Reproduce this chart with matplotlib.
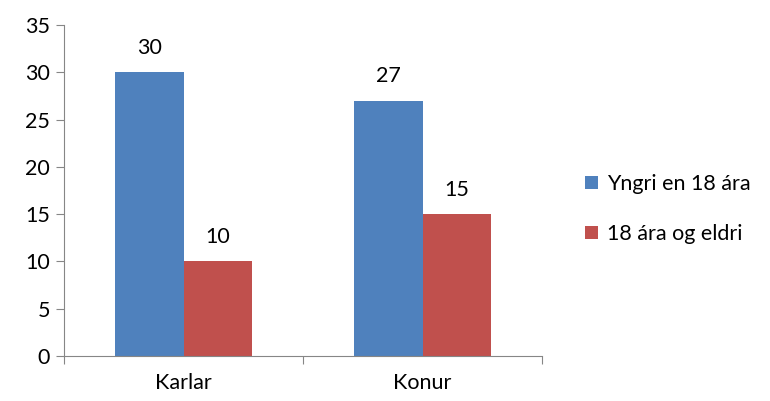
import matplotlib.pyplot as plt
import numpy as np

plt.rcParams['font.family'] = ['Lato', 'DejaVu Sans']

categories = ['Karlar', 'Konur']
series_names = ['Yngri en 18 ára', '18 ára og eldri']
young = [30, 27]
older = [10, 15]
colors = ['#4F81BD', '#C0504D']

fig = plt.figure(figsize=(7.7, 4.01), dpi=100)
ax = fig.add_axes([64 / 770, 1 - 356 / 401, 478 / 770, 331 / 401])

x = np.arange(len(categories))
w = 0.285
b1 = ax.bar(x - w / 2, young, w, color=colors[0], label=series_names[0])
b2 = ax.bar(x + w / 2, older, w, color=colors[1], label=series_names[1])

for bars in (b1, b2):
    for r in bars:
        ax.text(r.get_x() + r.get_width() / 2, r.get_height() + 1.5,
                f'{r.get_height():.0f}', ha='center', va='bottom', fontsize=15.5)

ax.set_xlim(-0.5, 1.5)
ax.set_ylim(0, 35)
ax.set_yticks(range(0, 36, 5))
ax.set_xticks([-0.5, 0.5, 1.5])
ax.set_xticklabels([])
ax.set_xticks(x, minor=True)
ax.set_xticklabels(categories, minor=True, fontsize=15.5)
ax.tick_params(axis='x', which='minor', length=0, pad=12)
ax.tick_params(axis='x', which='major', length=6, color='#868686', direction='out')
ax.tick_params(axis='y', length=6, color='#868686', labelsize=15.5, pad=4)

for s in ['top', 'right']:
    ax.spines[s].set_visible(False)
for s in ['left', 'bottom']:
    ax.spines[s].set_color('#868686')

fig.legend(loc='center left', bbox_to_anchor=(566 / 770, 1 - 209 / 401),
           frameon=False, fontsize=15.5, handlelength=0.6, handleheight=0.6,
           handletextpad=0.4, labelspacing=1.4)

fig.savefig('out.png', dpi=100)
